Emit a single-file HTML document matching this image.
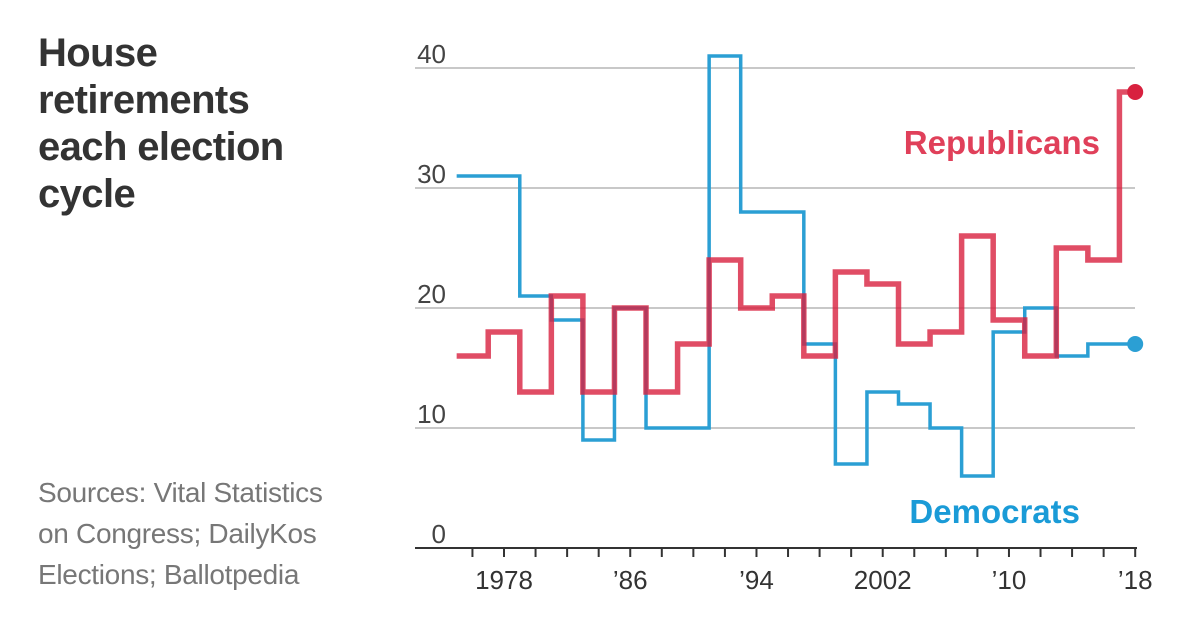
<!DOCTYPE html>
<html><head><meta charset="utf-8">
<style>
body{margin:0;width:1200px;height:628px;background:#fff;overflow:hidden;font-family:"Liberation Sans",sans-serif}
#title{position:absolute;left:38px;top:30px;font-size:40px;font-weight:bold;color:#333;line-height:47px;letter-spacing:-0.6px}
#src{position:absolute;left:38px;top:472px;font-size:28px;color:#777;line-height:41px;letter-spacing:-0.3px}
svg{position:absolute;left:0;top:0}
</style></head><body>
<div id="title">House<br>retirements<br>each election<br>cycle</div>
<div id="src">Sources: Vital Statistics<br>on Congress; DailyKos<br>Elections; Ballotpedia</div>
<svg id="chart" width="1200" height="628"></svg>
<script>
const years=[1976,1978,1980,1982,1984,1986,1988,1990,1992,1994,1996,1998,2000,2002,2004,2006,2008,2010,2012,2014,2016,2018];
const repValues=[16,18,13,21,13,20,13,17,24,20,21,16,23,22,17,18,26,19,16,25,24,38];
const demValues=[31,31,21,19,9,20,10,10,41,28,28,17,7,13,12,10,6,18,20,16,17,17];
const yTicks=[0,10,20,30,40];
const xLabels=[[1978,"1978"],[1986,"\u201986"],[1994,"\u201994"],[2002,"2002"],[2010,"\u201910"],[2018,"\u201918"]];
const X=y=>504+(y-1978)*15.78;
const Y=v=>548-v*12;
const NS="http://www.w3.org/2000/svg";
const svg=document.getElementById('chart');
function mk(t,a){const e=document.createElementNS(NS,t);for(const k in a)e.setAttribute(k,a[k]);svg.appendChild(e);return e;}
yTicks.forEach(v=>{
  if(v>0){const g=mk('line',{x1:415,x2:1135,y1:Y(v),y2:Y(v),stroke:'#c8c8c8','stroke-width':2});
  
  }
  const t=mk('text',{x:446,y:Y(v)-5,'text-anchor':'end','font-size':26,fill:'#444','font-family':'Liberation Sans Narrow, Liberation Sans, sans-serif'});
  t.textContent=v;
  
  
});
const ax=mk('line',{x1:415,x2:1137,y1:548,y2:548,stroke:'#333','stroke-width':2});


years.forEach(y=>{const tk=mk('line',{x1:X(y),x2:X(y),y1:548,y2:557,stroke:'#333','stroke-width':2});

});
xLabels.forEach(([y,l])=>{const t=mk('text',{x:X(y),y:589,'text-anchor':'middle','font-size':26,fill:'#333','font-family':'Liberation Sans Narrow, Liberation Sans, sans-serif'});
t.textContent=l;

});
function stepPath(vals){let d='';const h=15.78;
vals.forEach((v,i)=>{const x0=X(years[i])-h,x1=i===vals.length-1?X(years[i]):X(years[i])+h;
d+=(i===0?'M':'L')+x0+','+Y(v)+'L'+x1+','+Y(v);});return d;}
const dp=mk('path',{d:stepPath(demValues),fill:'none',stroke:'#2b9fd4','stroke-width':3.5});


const rp=mk('path',{d:stepPath(repValues),fill:'none',stroke:'#d8213f','stroke-opacity':0.8,'stroke-width':5.5});


const last=years.length-1;
const dd=mk('circle',{cx:X(years[last]),cy:Y(demValues[last]),r:8,fill:'#2b9fd4'});


const rd=mk('circle',{cx:X(years[last]),cy:Y(repValues[last]),r:8,fill:'#d8213f'});


const rl=mk('text',{x:1100,y:154,'text-anchor':'end','font-size':33,'font-weight':'bold',fill:'#e0405a'});
rl.textContent='Republicans';


const dl=mk('text',{x:1080,y:523,'text-anchor':'end','font-size':33,'font-weight':'bold',fill:'#1a9bd7'});
dl.textContent='Democrats';


</script>
</body></html>
